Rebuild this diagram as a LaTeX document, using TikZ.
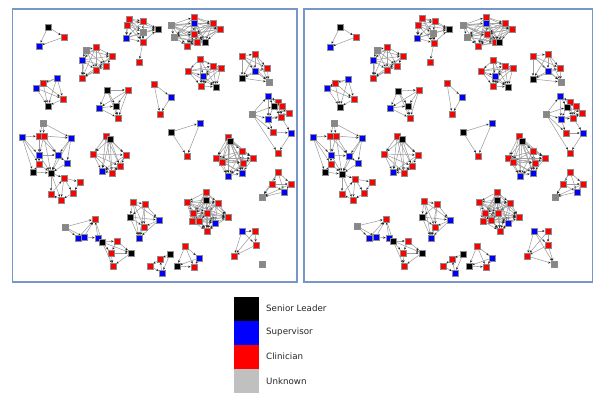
\documentclass[tikz,border=0pt]{standalone}
\usepackage{fontspec}
\setmainfont{DejaVu Sans}
\usetikzlibrary{arrows.meta}
\pgfdeclarelayer{bg}
\pgfsetlayers{bg,main}
\definecolor{cK}{RGB}{0,0,0}
\definecolor{cB}{RGB}{0,0,255}
\definecolor{cR}{RGB}{255,0,0}
\definecolor{cG}{RGB}{135,135,135}
\definecolor{cLG}{RGB}{192,192,192}
\definecolor{panelc}{RGB}{120,150,200}
\newcommand{\cliq}[2]{\foreach \a [count=\i] in {#2}{\foreach \b [count=\j] in {#2}{\ifnum\j>\i\relax\draw[ed] (#1\a) -- (#1\b);\fi}}}
\newcommand{\elist}[2]{\foreach \a/\b in {#2}{\draw[ed] (#1\a) -- (#1\b);}}
\newcommand{\alledges}[1]{%
  \cliq{#1}{A1,A2,A3}%
  \cliq{#1}{B1,B2,B3,B4,B5,B6,B8}\elist{#1}{B6/B7}%
  \cliq{#1}{C1,C2,C3,C4,C5,C6,C7}%
  \cliq{#1}{D1,D2,D3,D4,D5}%
  \cliq{#1}{E1,E2,E3,E4,E5}%
  \elist{#1}{F1/F3,F1/F4,F2/F3,F2/F10,F3/F4,F4/F5,F3/F6,F4/F7,F5/F7,F5/F8,F6/F7,F6/F9,F7/F8,F7/F11,F6/F11,F9/F11,F8/F11,F2/F6,F3/F9,F4/F11,F5/F11,F10/F9,F10/F11,F11/F12,F11/F16,F12/F13,F12/F14,F13/F14,F14/F15,F15/F16,F16/F12,F11/F15,F12/F15,F1/F5,F3/F7,F4/F6,F2/F9}%
  \cliq{#1}{G1,G2,G3,G4,G5,G6,G7}%
  \cliq{#1}{H1,H2,H3,H4,H5,H6}%
  \elist{#1}{I1/I2,I1/I3,I1/I4,I3/I4,I4/I2,I4/I5,I5/I2,I5/I6,I6/I7,I6/I8,I6/I9,I7/I8,I7/I9,I8/I9,I8/I10,I9/I10,I2/I6,I6/I10,I3/I2}%
  \elist{#1}{J1/J2,J2/J3,J3/J4,J4/J2,J1/J4}%
  \cliq{#1}{K1,K2,K3,K4}%
  \cliq{#1}{M1,M2,M3}%
  \cliq{#1}{N1,N2,N3}%
  \cliq{#1}{O1,O2,O3,O4,O5,O6,O7,O8,O9,O10}%
  \cliq{#1}{P1,P2,P3,P4,P5,P6,P7}%
  \cliq{#1}{Q1,Q2,Q3,Q4,Q5,Q6}%
  \elist{#1}{R1/R2,R1/R4,R2/R3,R2/R4,R3/R8,R4/R6,R4/R7,R4/R8,R6/R7,R7/R8,R5/R6,R5/R4,R5/R9,R5/R11,R6/R9,R9/R10,R7/R10,R1/R6,R3/R7,R10/R11,R2/R7,R1/R8,R6/R8,R5/R1}%
  \cliq{#1}{S1,S2,S3,S4,S5,S6,S7,S8,S9}%
  \cliq{#1}{T1,T2,T3,T4,T5}%
  \cliq{#1}{U1,U2,U3,U4,U5,U6,U7,U8,U9,U10,U11}%
  \cliq{#1}{V1,V2,V3,V4}%
}
\begin{document}
\begin{tikzpicture}[x=1pt,y=-1pt,
  nd/.style={rectangle,inner sep=0pt,minimum size=6.2pt,fill=c#1,draw=black!45,line width=0.3pt},
  ed/.style={draw=black!38,line width=0.55pt,-{Stealth[length=2.6pt,width=2.2pt,color=black!85]}},
  panel/.style={draw=panelc,line width=1.1pt},
  leg/.style={anchor=west,font=\fontsize{8.7}{10}\selectfont,text=black!85,inner sep=0pt}]
\useasboundingbox (0,0) rectangle (602,400);
% panels
\draw[panel] (12.5,9) rectangle (297,282);
\draw[panel] (304,9) rectangle (592.5,282);
% left panel nodes
\foreach \n/\x/\y/\c in {
 A1/48/27/K, A2/64/37/R, A3/39/46/B,
 B1/129/19/R, B2/127/25/R, B3/143/21/R, B4/126/38/B, B5/143/32/G, B6/143/42/R, B7/139/62/R, B8/158/29/K,
 C1/86/50/G, C2/96/47/R, C3/82/60/B, C4/112/56/R, C5/106/66/R, C6/96/70/R, C7/82/78/R,
 D1/57/78/B, D2/43/83/R, D3/36/88/B, D4/63/99/R, D5/48/106/K,
 E1/107/90/K, E2/128/90/R, E3/99/108/B, E4/116/106/K, E5/118/118/R,
 F1/43/123/G, F2/22/137/B, F3/39/136/R, F4/44/136/R, F5/71/138/B, F6/39/155/B, F7/58/155/B, F8/67/163/B, F9/39/164/R, F10/33/172/K, F11/51/173/K, F12/64/178/R, F13/80/182/R, F14/73/193/R, F15/61/200/R, F16/51/194/R,
 G1/106/136/R, G2/110/139/K, G3/93/154/R, G4/126/155/R, G5/120/166/R, G6/112/173/R, G7/102/171/B,
 H1/133/202/R, H2/145/204/R, H3/130/217/K, H4/159/220/B, H5/144/227/R, H6/139/238/B,
 I1/65/227/G, I2/95/219/R, I3/78/238/B, I4/84/237/B, I5/98/238/B, I6/102/242/K, I7/117/241/R, I8/111/253/R, I9/131/253/K, I10/113/266/R,
 J1/170/254/K, J2/160/259/R, J3/150/266/R, J4/162/273/B,
 K1/185/246/R, K2/199/258/B, K3/177/266/K, K4/194/267/R,
 M1/171/132/K, M2/200/123/B, M3/187/156/R,
 N1/154/84/R, N2/171/97/B, N3/160/114/R,
 O1/171/25/G, O2/194/17/R, O3/194/23/B, O4/213/23/R, O5/220/29/R, O6/174/37/G, O7/194/34/R, O8/187/46/R, O9/197/42/R, O10/205/42/K,
 P1/200/59/R, P2/188/71/R, P3/213/66/R, P4/221/68/R, P5/203/76/B, P6/201/86/R, P7/216/87/K,
 Q1/242/56/R, Q2/255/54/R, Q3/255/71/B, Q4/267/68/R, Q5/242/78/K, Q6/269/82/G,
 R1/268/96/B, R2/278/102/R, R3/282/106/R, R4/274/106/K, R5/252/114/G, R6/268/119/B, R7/281/117/R, R8/289/113/R, R9/273/132/R, R10/291/133/B, R11/278/153/R,
 S1/228/137/R, S2/230/141/K, S3/242/151/R, S4/216/158/R, S5/222/162/R, S6/253/158/R, S7/243/163/R, S8/228/176/B, S9/242/173/B,
 T1/278/172/R, T2/272/184/R, T3/291/184/R, T4/284/192/B, T5/262/197/G,
 U1/206/192/R, U2/206/200/K, U3/187/202/R, U4/218/203/R, U5/193/213/R, U6/207/213/R, U7/192/221/R, U8/199/221/R, U9/215/223/B, U10/228/217/R, U11/207/231/R,
 V1/242/231/B, V2/255/231/R, V3/256/245/R, V4/234/256/R, V5/262/264/G}
 {\node[nd=\c] (l\n) at (\x,\y) {};}
% right panel nodes
\foreach \n/\x/\y/\c in {
 A1/340/27/K, A2/356/37/R, A3/330/47/B,
 B1/422/18/R, B2/418/25/R, B3/435/21/R, B4/417/38/B, B5/433/33/G, B6/434/43/R, B7/430/62/R, B8/449/29/K,
 C1/377/50/G, C2/387/47/R, C3/373/60/B, C4/403/56/R, C5/397/66/R, C6/387/70/R, C7/373/78/R,
 D1/348/79/B, D2/335/83/R, D3/327/88/B, D4/354/99/R, D5/340/107/K,
 E1/398/91/K, E2/419/90/R, E3/390/108/B, E4/408/106/K, E5/410/118/R,
 F1/334/123/G, F2/313/137/B, F3/330/136/R, F4/336/136/R, F5/362/138/B, F6/331/155/B, F7/349/156/B, F8/358/163/B, F9/331/164/R, F10/325/172/K, F11/342/174/K, F12/355/179/R, F13/372/182/R, F14/364/193/R, F15/353/200/R, F16/342/194/R,
 G1/397/136/R, G2/402/139/K, G3/384/154/R, G4/418/155/R, G5/412/166/R, G6/404/173/R, G7/393/172/B,
 H1/424/201/R, H2/437/204/R, H3/422/217/K, H4/450/220/B, H5/435/227/R, H6/431/238/B,
 I1/357/226/G, I2/386/219/R, I3/369/238/B, I4/376/237/B, I5/389/238/B, I6/393/241/K, I7/408/241/R, I8/403/253/R, I9/422/253/K, I10/404/266/R,
 J1/463/254/K, J2/452/259/R, J3/443/266/R, J4/455/273/B,
 K1/477/246/R, K2/492/258/B, K3/469/266/K, K4/486/267/R,
 M1/463/132/K, M2/492/123/B, M3/478/156/R,
 N1/447/83/R, N2/462/97/B, N3/452/114/R,
 O1/463/25/G, O2/486/17/R, O3/486/23/B, O4/505/23/R, O5/512/29/R, O6/467/37/G, O7/487/34/R, O8/478/46/R, O9/495/42/R, O10/499/42/K,
 P1/493/60/R, P2/481/71/R, P3/505/66/R, P4/513/68/R, P5/495/76/B, P6/493/86/R, P7/508/87/K,
 Q1/533/56/R, Q2/548/54/R, Q3/548/71/B, Q4/560/68/R, Q5/533/79/K, Q6/561/82/G,
 R1/560/96/B, R2/570/102/R, R3/576/106/R, R4/567/107/K, R5/546/114/G, R6/561/119/B, R7/573/118/R, R8/582/113/R, R9/566/133/R, R10/583/133/B, R11/570/153/R,
 S1/519/136/R, S2/522/141/K, S3/533/151/R, S4/508/158/R, S5/513/162/R, S6/545/158/R, S7/535/163/R, S8/520/176/B, S9/533/173/B,
 T1/570/172/R, T2/563/184/R, T3/583/184/R, T4/577/192/B, T5/555/197/G,
 U1/497/192/R, U2/497/200/K, U3/479/202/R, U4/510/203/R, U5/485/213/R, U6/498/213/R, U7/483/221/R, U8/491/220/R, U9/508/223/B, U10/519/217/R, U11/500/231/R,
 V1/534/231/B, V2/548/231/R, V3/548/245/R, V4/527/256/R, V5/554/264/G}
 {\node[nd=\c] (r\n) at (\x,\y) {};}
% edges
\begin{pgfonlayer}{bg}
\alledges{l}
\alledges{r}
\elist{r}{V4/V5,V3/V5,V1/V5}
\end{pgfonlayer}
% legend
\fill[cK] (234,297) rectangle (259,321);
\fill[cB] (234,321) rectangle (259,345);
\fill[cR] (234,345) rectangle (259,369);
\fill[cLG] (234,369) rectangle (259,393);
\node[leg] (lgK) at (266,308) {Senior Leader};
\node[leg] (lgB) at (266,332) {Supervisor};
\node[leg] (lgR) at (266,356) {Clinician};
\node[leg] (lgG) at (266,381) {Unknown};
\end{tikzpicture}
\end{document}
